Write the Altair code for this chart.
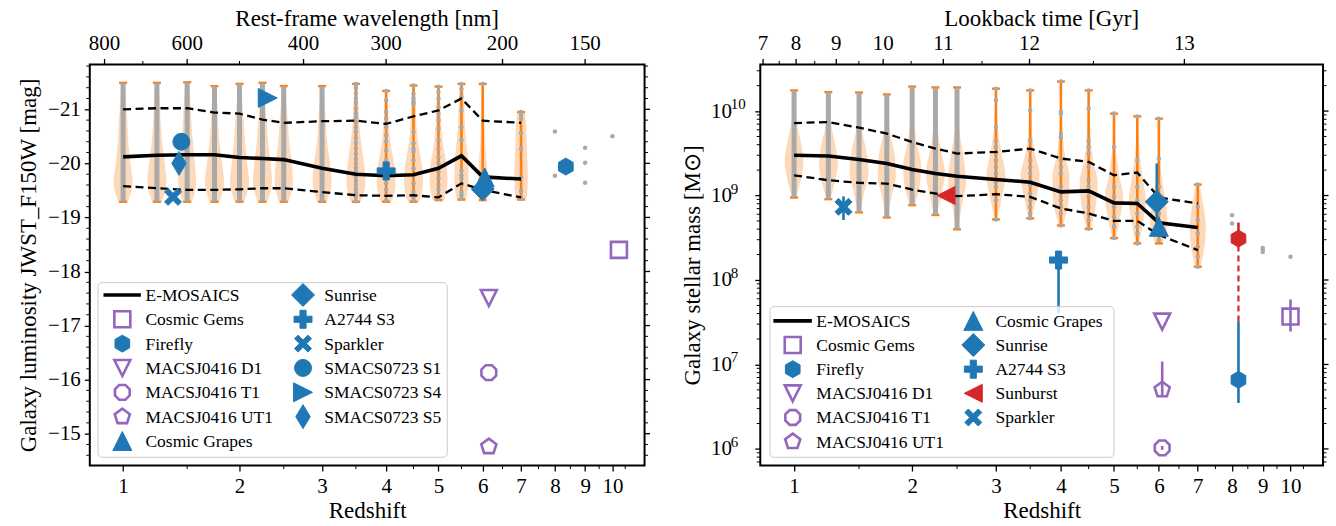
import altair as alt
import numpy as np
import pandas as pd

FONT = "Liberation Serif"
BLUE = "#1f77b4"
PURPLE = "#9467bd"
RED = "#d62728"
ORANGE = "#ff7f0e"
GRAY = "#a9a9a9"
PEACH = "#fdd9ba"

# ---------------------------------------------------------------- data
Z_BINS = [1.0, 1.25, 1.5, 1.75, 2.0, 2.25, 2.5, 3.0, 3.5, 4.0, 4.5, 5.0, 5.5, 6.0, 7.0]

# luminosity panel (mag)
LUM_MAX = [-21.49, -21.49, -21.50, -21.43, -21.47, -21.49, -21.43, -21.43, -21.47, -21.34, -21.44, -21.42, -21.47, -21.47, -20.95]
LUM_MIN = [-19.29, -19.29, -19.29, -19.29, -19.29, -19.29, -19.29, -19.29, -19.29, -19.29, -19.29, -19.32, -19.33, -19.32, -19.33]
LUM_MED = [-20.12, -20.15, -20.16, -20.16, -20.11, -20.09, -20.07, -19.91, -19.80, -19.77, -19.79, -19.91, -20.14, -19.75, -19.71]
LUM_UP = [-21.00, -21.02, -21.02, -20.94, -20.92, -20.81, -20.75, -20.78, -20.79, -20.73, -20.87, -20.98, -21.20, -20.79, -20.75]
LUM_LO = [-19.58, -19.54, -19.51, -19.51, -19.52, -19.54, -19.54, -19.47, -19.41, -19.40, -19.41, -19.37, -19.63, -19.51, -19.37]
LUM_DENSITY = [
    [0.20, 0.30, 0.45, 0.55, 0.75, 1.00, 0.50],
    [0.20, 0.30, 0.40, 0.55, 0.80, 1.00, 0.50],
    [0.20, 0.35, 0.45, 0.60, 0.80, 0.95, 0.50],
    [0.15, 0.30, 0.40, 0.55, 0.80, 1.00, 0.50],
    [0.20, 0.30, 0.45, 0.60, 0.80, 1.00, 0.50],
    [0.20, 0.30, 0.45, 0.60, 0.85, 1.00, 0.50],
    [0.15, 0.30, 0.45, 0.60, 0.85, 0.95, 0.50],
    [0.15, 0.30, 0.40, 0.55, 0.85, 1.00, 0.50],
    [0.10, 0.25, 0.35, 0.55, 0.85, 1.00, 0.55],
    [0.10, 0.20, 0.30, 0.50, 0.85, 1.00, 0.60],
    [0.10, 0.25, 0.30, 0.50, 0.85, 1.00, 0.60],
    [0.10, 0.20, 0.30, 0.45, 0.80, 0.95, 0.60],
    [0.15, 0.30, 0.35, 0.50, 0.70, 0.75, 0.50],
    [0.10, 0.15, 0.20, 0.25, 0.40, 0.50, 0.40],
    [0.40, 0.55, 0.60, 0.65, 0.70, 0.70, 0.55],
]
LUM_DENSE_BINS = [1.0, 1.25, 1.5, 1.75, 2.0, 2.25, 2.5, 3.0]
LUM_DOTS = {
    3.5: [-21.47, -21.40, -21.30, -21.20, -21.12, -21.02, -20.92, -20.85, -20.76, -20.66, -20.58, -20.47, -20.38,
          -20.28, -20.18, -20.08, -20.00, -19.92, -19.84, -19.76, -19.68, -19.60, -19.52, -19.45, -19.38, -19.30],
    4.0: [-21.34, -21.17, -20.95, -20.83, -20.67, -20.52, -20.40, -20.24, -20.06, -19.94, -19.84, -19.72, -19.63, -19.51, -19.41, -19.32],
    4.5: [-21.44, -21.29, -21.20, -21.14, -21.10, -20.58, -20.37, -20.27, -20.21, -20.06, -19.91, -19.78, -19.63, -19.47, -19.38, -19.32],
    5.0: [-21.42, -21.32, -21.20, -21.04, -20.92, -20.80, -20.64, -20.43, -20.27, -20.12, -20.00, -19.84, -19.72, -19.60, -19.51, -19.41, -19.35],
    5.5: [-21.47, -21.38, -21.23, -20.98, -20.67, -20.43, -20.12, -19.87, -19.78, -19.72, -19.60, -19.47, -19.41, -19.35],
    6.0: [-21.47, -19.35],
    7.0: [-20.95, -20.90, -20.83, -20.56, -20.27, -19.75, -19.49, -19.38, -19.34],
    8.0: [-20.59, -19.77],
    9.0: [-20.29, -20.01, -19.64],
    10.0: [-20.50],
}

# stellar-mass panel (log10 Msun)
LOGM_MAX = [10.245, 10.224, 10.22, 10.197, 10.29, 10.28, 10.28, 10.265, 10.245, 10.35, 10.245, 9.97, 9.937, 9.91, 9.13]
LOGM_MIN = [8.977, 8.957, 8.80, 8.74, 8.886, 8.77, 8.60, 8.717, 8.73, 8.646, 8.606, 8.496, 8.433, 8.433, 8.157]
LOGM_MED = [9.477, 9.468, 9.426, 9.379, 9.308, 9.26, 9.229, 9.19, 9.158, 9.043, 9.055, 8.913, 8.906, 8.677, 8.622]
LOGM_UP = [9.858, 9.87, 9.804, 9.733, 9.634, 9.556, 9.497, 9.516, 9.556, 9.438, 9.398, 9.24, 9.272, 8.977, 8.906]
LOGM_LO = [9.24, 9.181, 9.15, 9.142, 9.07, 9.024, 8.992, 9.016, 8.984, 8.847, 8.788, 8.70, 8.70, 8.532, 8.354]
MASS_DENSITY = [
    [0.08, 0.15, 0.35, 0.75, 1.00, 0.70, 0.20],
    [0.08, 0.15, 0.35, 0.75, 1.00, 0.70, 0.20],
    [0.08, 0.15, 0.35, 0.80, 1.00, 0.55, 0.15],
    [0.08, 0.15, 0.40, 0.85, 0.95, 0.50, 0.12],
    [0.05, 0.10, 0.25, 0.55, 0.95, 0.80, 0.25],
    [0.05, 0.10, 0.25, 0.60, 1.00, 0.65, 0.15],
    [0.05, 0.10, 0.30, 0.70, 0.95, 0.50, 0.10],
    [0.05, 0.10, 0.25, 0.60, 1.00, 0.60, 0.12],
    [0.05, 0.10, 0.20, 0.50, 1.00, 0.65, 0.15],
    [0.04, 0.08, 0.15, 0.40, 0.90, 0.80, 0.20],
    [0.05, 0.10, 0.20, 0.45, 0.95, 0.75, 0.20],
    [0.05, 0.10, 0.25, 0.55, 0.95, 0.65, 0.20],
    [0.05, 0.12, 0.30, 0.60, 0.90, 0.60, 0.20],
    [0.04, 0.08, 0.15, 0.35, 0.70, 0.90, 0.40],
    [0.20, 0.45, 0.70, 0.85, 0.80, 0.60, 0.30],
]
MASS_DENSE_BINS = [1.0, 1.25, 1.5, 1.75, 2.0, 2.25, 2.5]
MASS_DOTS = {
    3.0: [10.265, 10.127, 9.81, 9.65, 9.575, 9.497, 9.418, 9.339, 9.26, 9.162, 9.103, 8.945, 8.717],
    3.5: [10.245, 10.01, 9.65, 9.536, 9.418, 9.339, 9.26, 9.18, 9.122, 9.024, 8.945, 8.866, 8.788, 8.73],
    4.0: [10.35, 9.99, 9.97, 9.73, 9.69, 9.418, 9.339, 9.26, 9.103, 9.024, 8.945, 8.866, 8.788, 8.646],
    4.5: [10.245, 10.03, 9.65, 9.575, 9.497, 9.339, 9.18, 9.103, 8.985, 8.866, 8.788, 8.709, 8.606],
    5.0: [9.97, 9.575, 9.103, 8.985, 8.866, 8.748, 8.63, 8.496],
    5.5: [9.937, 9.418, 9.26, 9.103, 8.945, 8.788, 8.63, 8.55, 8.433],
    6.0: [9.91, 9.437, 9.103, 8.945, 8.788, 8.63, 8.473],
    7.0: [9.13, 8.866, 8.709, 8.55, 8.394, 8.276, 8.157],
    8.0: [8.768, 8.67],
    9.0: [8.38, 8.36, 8.33],
    10.0: [8.275],
}

# observed clusters - luminosity panel
LUM_OBS_NAME = ["Cosmic Gems", "Firefly", "MACSJ0416 D1", "MACSJ0416 T1", "MACSJ0416 UT1", "Cosmic Grapes",
                "Sunrise", "A2744 S3", "Sparkler", "SMACS0723 S1", "SMACS0723 S4", "SMACS0723 S5"]
LUM_OBS_Z = [10.25, 8.35, 6.15, 6.15, 6.15, 6.05, 6.0, 4.0, 1.38, 1.45, 2.31, 1.43]
LUM_OBS_MAG = [-18.40, -19.94, -17.51, -16.13, -14.76, -19.74, -19.52, -19.86, -19.38, -20.40, -21.21, -20.00]

# observed clusters - mass panel (log10 Msun, with error range)
MASS_OBS_NAME = ["Cosmic Gems", "Firefly", "Firefly total", "MACSJ0416 D1", "MACSJ0416 T1", "MACSJ0416 UT1",
                 "Cosmic Grapes", "Sunrise", "A2744 S3", "Sunburst", "Sparkler"]
MASS_OBS_Z = [10.0, 8.2, 8.2, 6.08, 6.08, 6.08, 6.0, 5.95, 3.96, 2.37, 1.37]
MASS_OBS_LOGM = [7.567, 6.818, 8.49, 7.507, 6.012, 6.70, 8.63, 8.925, 8.236, 9.00, 8.866]
MASS_OBS_LO = [7.39, 6.544, 8.49, 7.507, 5.99, 6.62, 8.55, 8.55, 7.607, 9.00, 8.71]
MASS_OBS_HI = [7.77, 7.51, 8.68, 7.507, 6.035, 7.035, 8.70, 9.38, 8.33, 9.00, 8.99]
FIREFLY_DASH_LOGM = [7.51, 8.49]

# axis tick data
Z_TICKS = [1, 2, 3, 4, 5, 6, 7, 8, 9, 10]
Z_MINOR = [1.5, 2.5, 3.5, 4.5, 5.5, 6.5, 7.5, 8.5, 9.5, 10.5]
WAVE_MAJOR = [800, 600, 400, 300, 200, 150]
WAVE_MINOR = [700, 500]
F150W_NM = 1500.0
LOOKBACK_MAJOR = [7, 8, 9, 10, 11, 12, 13]
LOOKBACK_MAJOR_Z = [0.798, 1.014, 1.312, 1.716, 2.339, 3.489, 6.64]
LOOKBACK_MINOR_Z = [0.901, 1.147, 1.499, 1.99, 2.813, 4.59]
MAG_TICKS = [-21, -20, -19, -18, -17, -16, -15]
MASS_TICKS = [1e6, 1e7, 1e8, 1e9, 1e10]
MASS_TICK_EXP = ["6", "7", "8", "9", "10"]

# ---------------------------------------------------------------- styles
W_L, W_R, H = 556, 564, 402
ZP1_DOMAIN = [1.781, 12.3]
MAG_DOMAIN = [-21.83, -14.41]
MASS_DOMAIN = [10 ** 5.803, 10 ** 10.552]

HEX = "M0,-1L0.866,-0.5L0.866,0.5L0,1L-0.866,0.5L-0.866,-0.5Z"
OCT = "M0.924,0.383L0.383,0.924L-0.383,0.924L-0.924,0.383L-0.924,-0.383L-0.383,-0.924L0.383,-0.924L0.924,-0.383Z"
PENT = "M0,-1L0.951,-0.309L0.588,0.809L-0.588,0.809L-0.951,-0.309Z"
PLUS = "M-0.34,-1H0.34V-0.34H1V0.34H0.34V1H-0.34V0.34H-1V-0.34H-0.34Z"
XSH = "M0,-0.42L0.58,-1L1,-0.58L0.42,0L1,0.58L0.58,1L0,0.42L-0.58,1L-1,0.58L-0.42,0L-1,-0.58L-0.58,-1Z"
THIN_D = "M0,-1L0.6,0L0,1L-0.6,0Z"
DIAM = "M0,-1L1,0L0,1L-1,0Z"
TRI_UP = "M0,-1L1,1L-1,1Z"
TRI_DOWN = "M0,1L1,-1L-1,-1Z"
TRI_RIGHT = "M1,0L-1,-1L-1,1Z"
TRI_LEFT = "M-1,0L1,-1L1,1Z"

STYLE = {
    "Cosmic Gems": ("square", PURPLE, False, 16),
    "Firefly": (HEX, BLUE, True, 17),
    "Firefly total": (HEX, RED, True, 17),
    "MACSJ0416 D1": (TRI_DOWN, PURPLE, False, 16),
    "MACSJ0416 T1": (OCT, PURPLE, False, 16),
    "MACSJ0416 UT1": (PENT, PURPLE, False, 16),
    "Cosmic Grapes": (TRI_UP, BLUE, True, 19),
    "Sunrise": (DIAM, BLUE, True, 23),
    "A2744 S3": (PLUS, BLUE, True, 18),
    "Sparkler": (XSH, BLUE, True, 17),
    "SMACS0723 S1": ("circle", BLUE, True, 17),
    "SMACS0723 S4": (TRI_RIGHT, BLUE, True, 19),
    "SMACS0723 S5": (THIN_D, BLUE, True, 24),
    "Sunburst": (TRI_LEFT, RED, True, 18),
}


def style_cols(df):
    df = df.copy()
    df["shape"] = [STYLE[n][0] for n in df["name"]]
    df["strokec"] = [STYLE[n][1] for n in df["name"]]
    df["fillc"] = [STYLE[n][1] if STYLE[n][2] else "transparent" for n in df["name"]]
    df["sw"] = [1.0 if STYLE[n][2] else 2.6 for n in df["name"]]
    df["size"] = [STYLE[n][3] ** 2 for n in df["name"]]
    return df


def marker_enc():
    return dict(
        shape=alt.Shape("shape:N", scale=None),
        size=alt.Size("size:Q", scale=None),
        fill=alt.Fill("fillc:N", scale=None),
        stroke=alt.Stroke("strokec:N", scale=None),
        strokeWidth=alt.StrokeWidth("sw:Q", scale=None),
    )


XAX = alt.Axis(values=[z + 1 for z in Z_TICKS], labelExpr="format(datum.value - 1, 'd')",
               title="Redshift", labelPadding=5, titlePadding=3)
X_SCALE = alt.Scale(type="log", domain=ZP1_DOMAIN, nice=False)


def ex(field):
    return alt.X(field, type="quantitative", scale=X_SCALE, axis=XAX)


def build_panel(kind):
    if kind == "lum":
        W = W_L
        y_scale = alt.Scale(domain=MAG_DOMAIN, reverse=True, nice=False, zero=False)
        y_axis = alt.Axis(values=MAG_TICKS, labelExpr="'\u2212' + format(-datum.value, 'd')",
                          title="Galaxy luminosity JWST_F150W [mag]", labelPadding=4, titlePadding=7)
        vmax, vmin, med, up, lo = LUM_MAX, LUM_MIN, LUM_MED, LUM_UP, LUM_LO
        dens, dense_bins, dots = LUM_DENSITY, LUM_DENSE_BINS, LUM_DOTS
        conv = lambda v: v
    else:
        W = W_R
        y_scale = alt.Scale(type="log", domain=MASS_DOMAIN, nice=False)
        y_axis = alt.Axis(values=MASS_TICKS, labelExpr="'10'",
                          title="Galaxy stellar mass [M\u2299]", labelPadding=23.5, titlePadding=6)
        vmax, vmin, med, up, lo = LOGM_MAX, LOGM_MIN, LOGM_MED, LOGM_UP, LOGM_LO
        dens, dense_bins, dots = MASS_DENSITY, MASS_DENSE_BINS, MASS_DOTS
        conv = lambda v: 10 ** v
    pxdec = W / np.log10(ZP1_DOMAIN[1] / ZP1_DOMAIN[0])

    def ey(field):
        return alt.Y(field, type="quantitative", scale=y_scale, axis=y_axis)

    half_w = 9.5 / pxdec  # violin half width (log10 units) for density 1

    # violins
    rows = []
    for z, hi, lw, d in zip(Z_BINS, vmax, vmin, dens):
        levels = np.linspace(hi, lw, len(d))
        for lev, dd in zip(levels, d):
            rows.append(dict(bin=z, v=conv(lev), xl=(1 + z) * 10 ** (-dd * half_w), xr=(1 + z) * 10 ** (dd * half_w)))
    vio = pd.DataFrame(rows)
    layers = []
    layers.append(alt.Chart(vio).mark_area(orient="horizontal", interpolate="monotone", color=PEACH, opacity=1)
                  .encode(y=ey("v"), x=ex("xl"), x2="xr:Q", detail="bin:N"))

    stats = pd.DataFrame({"zp1": [z + 1 for z in Z_BINS], "vmax": [conv(v) for v in vmax],
                          "vmin": [conv(v) for v in vmin]})
    layers.append(alt.Chart(stats).mark_rule(color=ORANGE, strokeWidth=2.6)
                  .encode(x=ex("zp1"), y=ey("vmax"), y2="vmin:Q"))
    caps = pd.concat([stats[["zp1"]].assign(v=stats["vmax"]), stats[["zp1"]].assign(v=stats["vmin"])])
    layers.append(alt.Chart(caps).mark_tick(orient="horizontal", color=ORANGE, size=8, thickness=2.4, opacity=1)
                  .encode(x=ex("zp1"), y=ey("v")))

    dense = stats[[z - 1 in dense_bins for z in stats["zp1"]]]
    layers.append(alt.Chart(dense).mark_rule(color=GRAY, strokeWidth=5)
                  .encode(x=ex("zp1"), y=ey("vmax"), y2="vmin:Q"))
    drows = [dict(zp1=z + 1, v=conv(v)) for z, vals in dots.items() for v in vals]
    layers.append(alt.Chart(pd.DataFrame(drows)).mark_circle(color=GRAY, size=20, opacity=1)
                  .encode(x=ex("zp1"), y=ey("v")))

    # E-MOSAICS median and percentiles
    pct = pd.DataFrame(
        [dict(zp1=z + 1, v=conv(a), which="up") for z, a in zip(Z_BINS, up)] +
        [dict(zp1=z + 1, v=conv(a), which="lo") for z, a in zip(Z_BINS, lo)])
    layers.append(alt.Chart(pct).mark_line(color="black", strokeWidth=2.3, strokeDash=[8, 4.5])
                  .encode(x=ex("zp1"), y=ey("v"), detail="which:N"))
    mdf = pd.DataFrame({"zp1": [z + 1 for z in Z_BINS], "v": [conv(a) for a in med]})
    layers.append(alt.Chart(mdf).mark_line(color="black", strokeWidth=3.6).encode(x=ex("zp1"), y=ey("v")))

    # observations
    if kind == "lum":
        obs = pd.DataFrame({"name": LUM_OBS_NAME, "zp1": [z + 1 for z in LUM_OBS_Z], "v": LUM_OBS_MAG})
    else:
        obs = pd.DataFrame({"name": MASS_OBS_NAME, "zp1": [z + 1 for z in MASS_OBS_Z],
                            "v": [10 ** a for a in MASS_OBS_LOGM],
                            "lo": [10 ** a for a in MASS_OBS_LO], "hi": [10 ** a for a in MASS_OBS_HI]})
        obs["ec"] = [STYLE[n][1] for n in obs["name"]]
        layers.append(alt.Chart(obs).mark_rule(strokeWidth=2.6)
                      .encode(x=ex("zp1"), y=ey("lo"), y2="hi:Q", color=alt.Color("ec:N", scale=None)))
        ff = pd.DataFrame({"zp1": [MASS_OBS_Z[2] + 1], "lo": [10 ** FIREFLY_DASH_LOGM[0]],
                           "hi": [10 ** FIREFLY_DASH_LOGM[1]]})
        layers.append(alt.Chart(ff).mark_rule(strokeWidth=2.2, color=RED, strokeDash=[6, 4])
                      .encode(x=ex("zp1"), y=ey("lo"), y2="hi:Q"))
    obs = style_cols(obs)
    layers.append(alt.Chart(obs).mark_point(filled=True, opacity=1)
                  .encode(x=ex("zp1"), y=ey("v"), **marker_enc()))

    # legend (manual, matplotlib style)
    if kind == "lum":
        col1 = ["Cosmic Gems", "Firefly", "MACSJ0416 D1", "MACSJ0416 T1", "MACSJ0416 UT1", "Cosmic Grapes"]
        col2 = ["Sunrise", "A2744 S3", "Sparkler", "SMACS0723 S1", "SMACS0723 S4", "SMACS0723 S5"]
        box = (8.3, 358.3, 218.7, 393.7)
        row0, rstep = 231.0, 24.4
        c1m, c1t, c2m, c2t = 32.6, 55.8, 213.7, 235.1
        line = (13.7, 51.2)
    else:
        col1 = ["Cosmic Gems", "Firefly", "MACSJ0416 D1", "MACSJ0416 T1", "MACSJ0416 UT1"]
        col2 = ["Cosmic Grapes", "Sunrise", "A2744 S3", "Sunburst", "Sparkler"]
        box = (9.7, 354.5, 242.7, 393.7)
        row0, rstep = 257.0, 24.2
        c1m, c1t, c2m, c2t = 32.5, 56.2, 213.5, 235.7
        line = (13.1, 51.7)
    one = pd.DataFrame({"a": [0]})
    layers.append(alt.Chart(one).mark_rect(fill="white", fillOpacity=0.8, stroke="#cccccc", strokeWidth=1,
                                           cornerRadius=4)
                  .encode(x=alt.value(box[0]), x2=alt.value(box[1]), y=alt.value(box[2]), y2=alt.value(box[3])))
    layers.append(alt.Chart(one).mark_rule(color="black", strokeWidth=3.6)
                  .encode(x=alt.value(line[0]), x2=alt.value(line[1]), y=alt.value(row0)))
    leg_rows = [dict(name="E-MOSAICS", px=c1m, tx=c1t, py=row0)]
    for i, n in enumerate(col1):
        leg_rows.append(dict(name=n, px=c1m, tx=c1t, py=row0 + (i + 1) * rstep))
    for i, n in enumerate(col2):
        leg_rows.append(dict(name=n, px=c2m, tx=c2t, py=row0 + i * rstep))
    leg = pd.DataFrame(leg_rows)
    legm = style_cols(leg[leg["name"] != "E-MOSAICS"])
    layers.append(alt.Chart(legm).mark_point(filled=True, opacity=1)
                  .encode(x=alt.X("px:Q", scale=None, axis=None), y=alt.Y("py:Q", scale=None, axis=None),
                          **marker_enc()))
    layers.append(alt.Chart(leg).mark_text(font=FONT, fontSize=17.5, align="left", baseline="middle",
                                           color="black", dy=1)
                  .encode(x=alt.X("tx:Q", scale=None, axis=None), y=alt.Y("py:Q", scale=None, axis=None),
                          text="name:N"))

    # extra ticks: bottom minor, left minor, right spine
    zmin = pd.DataFrame({"zp1": [z + 1 for z in Z_MINOR]})
    layers.append(alt.Chart(zmin).mark_rule(color="black", strokeWidth=1)
                  .encode(x=ex("zp1"), y=alt.value(H), y2=alt.value(H + 3.5)))
    if kind == "lum":
        minor_y = [round(-21.8 + 0.2 * i, 1) for i in range(37)]
        minor_y = [v for v in minor_y if abs(v - round(v)) > 1e-6]
        major_y = MAG_TICKS
    else:
        minor_y = [m * 10 ** e for e in range(5, 11) for m in range(2, 10)]
        minor_y = [v for v in minor_y if MASS_DOMAIN[0] < v < MASS_DOMAIN[1]]
        major_y = MASS_TICKS
        # superscript exponents of the 10^n tick labels
        expdf = pd.DataFrame({"v": MASS_TICKS, "e": MASS_TICK_EXP})
        layers.append(alt.Chart(expdf).mark_text(font=FONT, fontSize=15, align="left", baseline="middle",
                                                 color="black", dy=-7)
                      .encode(y=ey("v"), x=alt.value(-29.5), text="e:N"))
    ymin_df = pd.DataFrame({"v": minor_y})
    ymaj_df = pd.DataFrame({"v": major_y})
    layers.append(alt.Chart(ymin_df).mark_rule(color="black", strokeWidth=1)
                  .encode(y=ey("v"), x=alt.value(0), x2=alt.value(-3.5)))
    layers.append(alt.Chart(ymin_df).mark_rule(color="black", strokeWidth=1)
                  .encode(y=ey("v"), x=alt.value(W), x2=alt.value(W + 3.5)))
    layers.append(alt.Chart(ymaj_df).mark_rule(color="black", strokeWidth=1.3)
                  .encode(y=ey("v"), x=alt.value(W), x2=alt.value(W + 5.5)))

    # top axis
    if kind == "lum":
        tmaj = pd.DataFrame({"zp1": [F150W_NM / w for w in WAVE_MAJOR], "lab": [str(w) for w in WAVE_MAJOR]})
        tmin = pd.DataFrame({"zp1": [F150W_NM / w for w in WAVE_MINOR]})
        ttitle = "Rest-frame wavelength [nm]"
    else:
        tmaj = pd.DataFrame({"zp1": [z + 1 for z in LOOKBACK_MAJOR_Z], "lab": [str(t) for t in LOOKBACK_MAJOR]})
        tmin = pd.DataFrame({"zp1": [z + 1 for z in LOOKBACK_MINOR_Z]})
        ttitle = "Lookback time [Gyr]"
    layers.append(alt.Chart(tmaj).mark_rule(color="black", strokeWidth=1.3)
                  .encode(x=ex("zp1"), y=alt.value(0), y2=alt.value(-5.5)))
    layers.append(alt.Chart(tmin).mark_rule(color="black", strokeWidth=1)
                  .encode(x=ex("zp1"), y=alt.value(0), y2=alt.value(-3.5)))
    layers.append(alt.Chart(tmaj).mark_text(font=FONT, fontSize=21, baseline="alphabetic", align="center",
                                            color="black")
                  .encode(x=ex("zp1"), y=alt.value(-14.5), text="lab:N"))
    layers.append(alt.Chart(pd.DataFrame({"t": [ttitle]}))
                  .mark_text(font=FONT, fontSize=23, baseline="alphabetic", align="center", color="black")
                  .encode(x=alt.value(W / 2), y=alt.value(-38.5), text="t:N"))

    return alt.layer(*layers).properties(width=W, height=H)


left = build_panel("lum")
right = build_panel("mass")

chart = (
    alt.hconcat(left, right, spacing=28)
    .properties(padding={"left": 16, "top": 6, "right": 5, "bottom": 5}, background="white")
    .configure_view(stroke="black", strokeWidth=2)
    .configure_axis(labelFont=FONT, titleFont=FONT, labelFontSize=21, titleFontSize=23,
                    titleFontWeight="normal", labelColor="black", titleColor="black", tickColor="black",
                    tickWidth=1.3, tickSize=5.5, domain=False, grid=False)
)

chart.save("out.html", embed_options={"renderer": "svg", "actions": False})
